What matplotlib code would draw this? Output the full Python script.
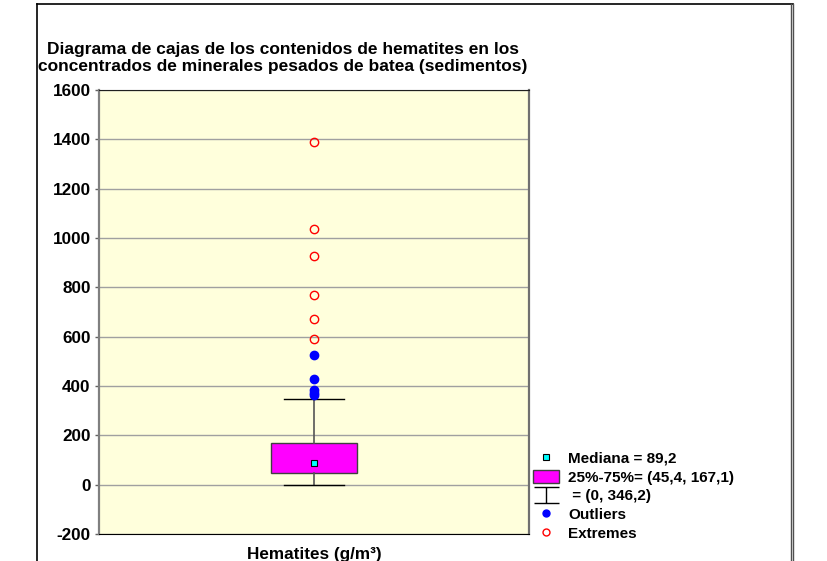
import matplotlib
matplotlib.use("Agg")
import matplotlib.pyplot as plt
from matplotlib.lines import Line2D
from matplotlib.patches import Patch
from matplotlib.path import Path

plt.rcParams['font.family'] = ['Liberation Sans', 'DejaVu Sans']
plt.rcParams['font.weight'] = 'bold'
plt.rcParams['axes.unicode_minus'] = False

# resumen de la caja, hematites (g/m3)
mediana = 89.2
q25, q75 = 45.4, 167.1
whis_lo, whis_hi = 0, 346.2
outliers = [524, 427, 385, 372, 362]
extremes = [1390, 1038, 928, 768, 671, 589]
yticks = [-200, 0, 200, 400, 600, 800, 1000, 1200, 1400, 1600]
xlabel = "Hematites (g/m³)"
titulo = ("Diagrama de cajas de los contenidos de hematites en los\n"
          "concentrados de minerales pesados de batea (sedimentos)")

W, H = 827, 561
fig = plt.figure(figsize=(W / 100, H / 100), dpi=100)
ax = fig.add_axes([99 / W, 1 - 534 / H, 430 / W, 444 / H])
ax.set_facecolor('#FFFFDC')

stats = [{'med': mediana, 'q1': q25, 'q3': q75, 'whislo': whis_lo,
          'whishi': whis_hi, 'fliers': [], 'label': ''}]
ax.bxp(stats, positions=[1], widths=0.2, capwidths=0.14, patch_artist=True,
       showfliers=False,
       boxprops=dict(facecolor='#FF00FF', edgecolor='#404040', linewidth=1),
       whiskerprops=dict(color='#555555', linewidth=1.2),
       capprops=dict(color='black', linewidth=1),
       medianprops=dict(linewidth=0), zorder=3)
ax.plot([1], [mediana], 's', ms=5, mfc='#00FFFF', mec='black', mew=0.8, zorder=4)
ax.plot([1] * len(outliers), outliers, 'o', ms=6, color='#0000FF', zorder=4)
ax.plot([1] * len(extremes), extremes, 'o', ms=6, mfc='none', mec='#FF0000',
        mew=1, zorder=4)

ax.set_xlim(0.5, 1.5)
ax.set_ylim(-200, 1600)
ax.set_yticks(yticks)
ax.set_xticks([])
ax.yaxis.grid(True, color='#A0A0A0', linewidth=1)
ax.set_axisbelow(True)
ax.tick_params(axis='y', length=3, width=1, color='#606060', labelsize=12.3, pad=3)
for lab in ax.get_yticklabels():
    lab.set_fontweight('bold')
ax.spines['left'].set_color('#808080')
ax.spines['left'].set_linewidth(1.6)
ax.spines['right'].set_color('#707070')
ax.spines['right'].set_linewidth(1.6)
ax.spines['top'].set_color('#202020')
ax.spines['bottom'].set_color('black')
ax.set_xlabel(xlabel, fontsize=12.3, fontweight='bold', labelpad=9)

fig.text(283 / W, 1 - 58 / H, titulo, ha='center', va='center',
         multialignment='center', fontsize=12.5, fontweight='bold', linespacing=1.2)

# simbolo del bigote para la leyenda
whisk = Path([(-1, 0.62), (1, 0.62), (0, 0.62), (0, -0.62), (-1, -0.62), (1, -0.62)],
             [Path.MOVETO, Path.LINETO, Path.MOVETO, Path.LINETO, Path.MOVETO, Path.LINETO])
handles = [
    Line2D([], [], ls='none', marker='s', ms=5, mfc='#00FFFF', mec='black', mew=0.8),
    Patch(facecolor='#FF00FF', edgecolor='#404040'),
    Line2D([], [], ls='none', marker=whisk, ms=18, mfc='none', mec='black', mew=1),
    Line2D([], [], ls='none', marker='o', ms=5, color='#0000FF'),
    Line2D([], [], ls='none', marker='o', ms=5, mfc='none', mec='#FF0000', mew=1),
]
labels = [f"Mediana = {mediana:.1f}".replace('.', ','),
          "25%-75%= (45,4, 167,1)",
          " = (0, 346,2)",
          "Outliers",
          "Extremes"]
fig.legend(handles, labels, loc='center left', bbox_to_anchor=(533 / W, 1 - 496 / H),
           frameon=False, borderpad=0, borderaxespad=0, handlelength=1.7,
           handleheight=0.9, handletextpad=0.6, labelspacing=0.27,
           prop={'size': 11, 'weight': 'bold'})

# marco de la figura
fig.add_artist(Line2D([37 / W, 37 / W], [0, 1 - 4 / H], color='black', lw=1.2))
fig.add_artist(Line2D([37 / W, 793 / W], [1 - 4 / H, 1 - 4 / H], color='black', lw=1.2))
fig.add_artist(Line2D([791 / W, 791 / W], [0, 1 - 4 / H], color='#505050', lw=1))
fig.add_artist(Line2D([793 / W, 793 / W], [0, 1 - 4 / H], color='#505050', lw=1))

fig.savefig("out.png", dpi=100)
